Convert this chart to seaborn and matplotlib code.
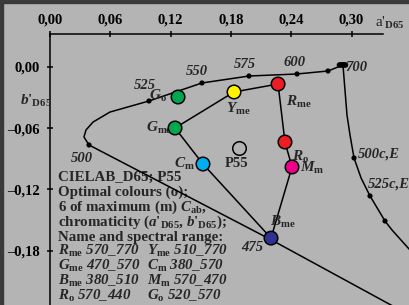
import matplotlib
matplotlib.use('Agg')
import matplotlib.pyplot as plt
from matplotlib.patches import Rectangle
import seaborn as sns
import pandas as pd

# spectral locus (a'_D65, b'_D65), from the blue end to 700 nm
locus_a = [0.360, 0.2209, 0.0388, 0.0338, 0.0358, 0.0428, 0.0597, 0.0985, 0.1512, 0.1980, 0.2458, 0.2766, 0.2915]
locus_b = [-0.244, -0.1696, -0.0765, -0.0687, -0.0619, -0.0541, -0.0443, -0.0335, -0.0159, -0.0091, -0.0071, -0.0042, 0.0017]

# marked wavelengths on the locus
wl_names = ['475', '500', '525', '550', '575', '600', '', '700']
wl_a = [0.2209, 0.0388, 0.0985, 0.1512, 0.1980, 0.2458, 0.2766, 0.2915]
wl_b = [-0.1696, -0.0765, -0.0335, -0.0159, -0.0091, -0.0071, -0.0042, 0.0017]
# crowd of dots near 700 nm
red_end_a = [0.2880, 0.2895, 0.2910, 0.2925, 0.2940]
red_end_b = [0.0017, 0.0017, 0.0017, 0.0017, 0.0017]

# compensation line (c,E)
comp_a = [0.2915, 0.2935, 0.2955, 0.2985, 0.3025, 0.3095, 0.3184, 0.3333, 0.3403, 0.3582, 0.3731]
comp_b = [0.0017, -0.0228, -0.0472, -0.0667, -0.0892, -0.1087, -0.1263, -0.1508, -0.1596, -0.1792, -0.1939]
comp_names = ['500c,E', '525c,E', '']
comp_mark_a = [0.3025, 0.3184, 0.3333]
comp_mark_b = [-0.0892, -0.1263, -0.1508]

# colour points
col_names = ['R_me', 'Y_me', 'G_me', 'C_m', 'B_me', 'M_m', 'R_o', 'G_o']
col_a = [0.2269, 0.1831, 0.1244, 0.1522, 0.2199, 0.2408, 0.2338, 0.1274]
col_b = [-0.0169, -0.0247, -0.0599, -0.0951, -0.1675, -0.0980, -0.0736, -0.0296]
col_fill = ['#ee1c25', '#fff200', '#00a650', '#00aeef', '#2e3192', '#ec008c', '#ee1c25', '#00a650']
# hexagon order through the maximum-chroma colours
hex_order = ['R_me', 'Y_me', 'G_me', 'C_m', 'B_me', 'M_m', 'R_o', 'R_me']

p55_a = [0.1881]
p55_b = [-0.0795]

x_ticks = [0.0, 0.06, 0.12, 0.18, 0.24, 0.30]
x_labels = ['0,00', '0,06', '0,12', '0,18', '0,24', '0,30']
y_ticks = [0.0, -0.06, -0.12, -0.18]
y_labels = ['0,00', '\u20130,06', '\u20130,12', '\u20130,18']

sns.set_style('white')
plt.rcParams['font.family'] = ['Liberation Serif', 'DejaVu Serif']
plt.rcParams['font.weight'] = 'bold'
plt.rcParams['mathtext.fontset'] = 'custom'
plt.rcParams['mathtext.rm'] = 'Liberation Serif:bold'
plt.rcParams['mathtext.bf'] = 'Liberation Serif:bold'
plt.rcParams['mathtext.it'] = 'Liberation Serif:italic:bold'

bg = '#b4b4b4'
fig = plt.figure(figsize=(4.1, 3.05), dpi=100, facecolor=bg)
ax = fig.add_axes([0, 0, 1, 1])
ax.set_facecolor(bg)
ax.set_xlim(-0.04975, 0.3582)
ax.set_ylim(-0.2329, 0.0652)

lw = 1.1
sns.lineplot(x=locus_a, y=locus_b, sort=False, estimator=None, color='black', lw=lw, ax=ax, zorder=3)
sns.lineplot(x=comp_a, y=comp_b, sort=False, estimator=None, color='black', lw=lw, ax=ax, zorder=3)

pts = pd.DataFrame({'name': col_names, 'a': col_a, 'b': col_b, 'fill': col_fill}).set_index('name')
hx = pts.loc[hex_order]
sns.lineplot(x=hx['a'].values, y=hx['b'].values, sort=False, estimator=None, color='black', lw=lw, ax=ax, zorder=3)

sns.scatterplot(x=wl_a, y=wl_b, color='black', s=14, edgecolor='none', ax=ax, zorder=4)
sns.scatterplot(x=red_end_a, y=red_end_b, color='black', s=16, edgecolor='none', ax=ax, zorder=4)
sns.scatterplot(x=comp_mark_a, y=comp_mark_b, color='black', s=14, edgecolor='none', ax=ax, zorder=4)
sns.scatterplot(x=pts['a'], y=pts['b'], c=pts['fill'], s=95, edgecolor='black', linewidth=1.1, ax=ax, zorder=5)
sns.scatterplot(x=p55_a, y=p55_b, color=bg, s=95, edgecolor='black', linewidth=1.1, ax=ax, zorder=5)

# wavelength labels
wl_off = {'475': (-14, -5), '500': (-5, -10), '525': (-3, 11.5), '550': (-3.5, 8),
          '575': (-3, 8.5), '600': (-2, 8.5), '700': (10, -2)}
for n, a, b in zip(wl_names, wl_a, wl_b):
    if n:
        ax.annotate(n, (a, b), xytext=wl_off[n], textcoords='offset points', ha='center', va='center',
                    fontsize=10.5, fontstyle='italic', fontweight='bold', zorder=6)
comp_off = {'500c,E': (3, 3), '525c,E': (-1.5, 8.5)}
for n, a, b in zip(comp_names, comp_mark_a, comp_mark_b):
    if n:
        ax.annotate(n, (a, b), xytext=comp_off[n], textcoords='offset points', ha='left', va='center',
                    fontsize=10.5, fontstyle='italic', fontweight='bold', zorder=6)

# colour labels
lab_pos = {'R_me': ((5.5, -13), 'left'), 'Y_me': ((3, -12), 'center'), 'G_me': ((-2, 0), 'right'),
           'C_m': ((-5.5, 0), 'right'), 'B_me': ((-0.5, 11.5), 'left'), 'M_m': ((6, -1), 'left'),
           'R_o': ((5, -11), 'left'), 'G_o': ((-8, 0.5), 'right')}
for n in col_names:
    base, sub = n.split('_')
    off, ha = lab_pos[n]
    ax.annotate(r'$%s_{\mathrm{%s}}$' % (base, sub), (pts.loc[n, 'a'], pts.loc[n, 'b']), xytext=off,
                textcoords='offset points', ha=ha, va='center', fontsize=11, zorder=4.5)
ax.annotate('P55', (p55_a[0], p55_b[0]), xytext=(-2, -11), textcoords='offset points', ha='center',
            va='center', fontsize=10.5, zorder=6)

# axes through the origin
for s in ['right', 'bottom']:
    ax.spines[s].set_visible(False)
ax.spines['left'].set_position(('data', 0))
ax.spines['top'].set_position(('data', 0.032))
ax.spines['top'].set_bounds(0, 0.331)
ax.spines['left'].set_bounds(-0.25, 0.032)
for s in ['left', 'top']:
    ax.spines[s].set_linewidth(lw)
    ax.spines[s].set_color('black')
ax.xaxis.set_ticks_position('top')
ax.yaxis.set_ticks_position('left')
ax.set_xticks(x_ticks, x_labels)
ax.set_yticks(y_ticks, y_labels)
ax.tick_params(axis='x', direction='inout', length=4.5, width=lw, pad=3, labelsize=10.5, colors='black')
ax.tick_params(axis='y', direction='inout', length=4.5, width=lw, pad=5, labelsize=10.5, colors='black')
for t in ax.get_xticklabels() + ax.get_yticklabels():
    t.set_fontweight('bold')

ax.text(375 / 410, 1 - 27 / 305, r"a'$_{\mathrm{D65}}$", transform=ax.transAxes, ha='left', va='baseline',
        fontsize=11, fontweight='normal')
ax.text(20 / 410, 1 - 105 / 305, r"$b$'$_{\mathrm{D65}}$", transform=ax.transAxes, ha='left', va='baseline',
        fontsize=11)

# legend text block
block = ['CIELAB_D65; P55',
         'Optimal colours (o);',
         r'6 of maximum (m) $C_{\mathrm{ab}}$,',
         r"chromaticity ($a$'$_{\mathrm{D65}}$, $b$'$_{\mathrm{D65}}$);",
         'Name and spectral range:']
fs = 10.8
for i, line in enumerate(block):
    ax.text(58 / 410, 1 - (181 + 15 * i) / 305, line, transform=ax.transAxes, ha='left', va='baseline',
            fontsize=fs, zorder=2)
ranges_left = [r'$R_{\mathrm{me}}$ 570_770', r'$G_{\mathrm{me}}$ 470_570', r'$B_{\mathrm{me}}$ 380_510', r'$R_{\mathrm{o}}$ 570_440']
ranges_right = [r'$Y_{\mathrm{me}}$ 510_770', r'$C_{\mathrm{m}}$ 380_570', r'$M_{\mathrm{m}}$ 570_470', r'$G_{\mathrm{o}}$ 520_570']
for i, (l, r) in enumerate(zip(ranges_left, ranges_right)):
    y = 1 - (255 + 15 * i) / 305
    ax.text(58 / 410, y, l, transform=ax.transAxes, ha='left', va='baseline', fontsize=fs,
            fontstyle='italic', zorder=2)
    ax.text(147 / 410, y, r, transform=ax.transAxes, ha='left', va='baseline', fontsize=fs,
            fontstyle='italic', zorder=2)

# dark frame on top and left edge
fig.add_artist(Rectangle((0, 1 - 3.3 / 305), 1, 3.3 / 305, transform=fig.transFigure, color='#3a3a3a'))
fig.add_artist(Rectangle((0, 0), 3.3 / 410, 1, transform=fig.transFigure, color='#3a3a3a'))

fig.savefig('out.png', dpi=100, facecolor=bg)
